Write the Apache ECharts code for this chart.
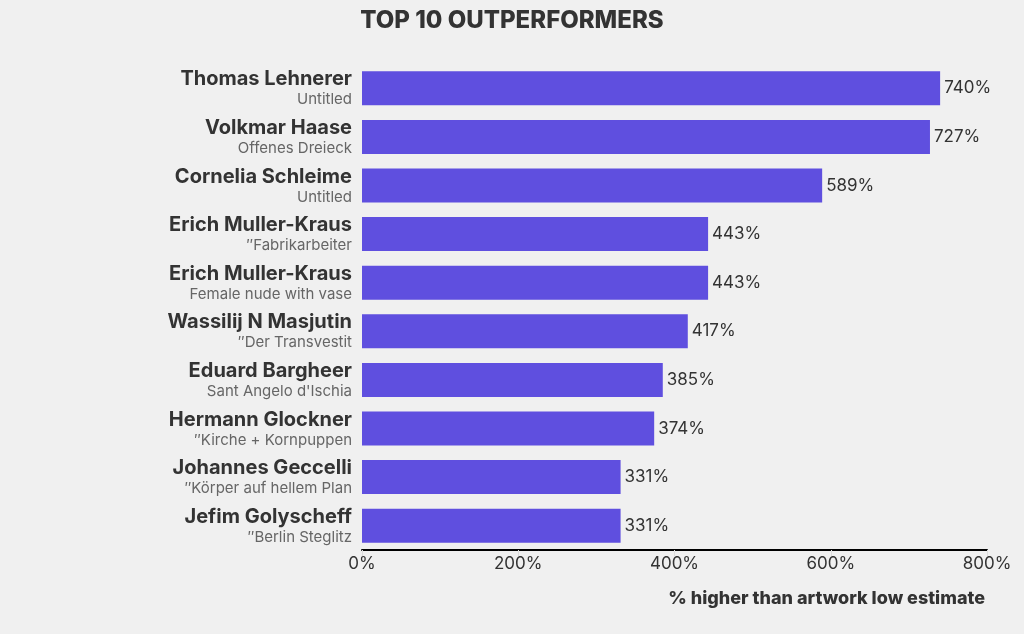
<!DOCTYPE html>
<html>
<head>
<meta charset="utf-8">
<script src="https://cdn.jsdelivr.net/npm/echarts@6/dist/echarts.min.js"></script>
<style>
  html, body { margin: 0; padding: 0; background: #f0f0f0; }
  #chart { width: 1024px; height: 634px; }
</style>
</head>
<body>
<div id="chart"></div>
<script>
// data, top to bottom
const artists = [
  "Thomas Lehnerer", "Volkmar Haase", "Cornelia Schleime", "Erich Muller-Kraus",
  "Erich Muller-Kraus", "Wassilij N Masjutin", "Eduard Bargheer", "Hermann Glockner",
  "Johannes Geccelli", "Jefim Golyscheff"
];
const artworks = [
  "Untitled", "Offenes Dreieck", "Untitled", "\u2033Fabrikarbeiter",
  "Female nude with vase", "\u2033Der Transvestit", "Sant Angelo d'Ischia", "\u2033Kirche + Kornpuppen",
  "\u2033K\u00f6rper auf hellem Plan", "\u2033Berlin Steglitz"
];
const outperformance = [740, 727, 589, 443, 443, 417, 385, 374, 331, 331];

const chartDom = document.getElementById("chart");
const chart = echarts.init(chartDom);
const font = "Inter, 'Noto Sans', sans-serif";

// y axis draws bottom-up, so reverse
const cats = artists.map((a, i) => a + "|" + artworks[i]).reverse();
const vals = outperformance.slice().reverse();

const option = {
  backgroundColor: "#f0f0f0",
  textStyle: { fontFamily: font },
  title: {
    text: "TOP 10 OUTPERFORMERS",
    left: "center",
    top: 4,
    textStyle: { fontFamily: font, fontSize: 24, fontWeight: 800, color: "#333" }
  },
  grid: { left: 362, right: 37, top: 64, bottom: 84, containLabel: false },
  xAxis: {
    type: "value",
    min: 0,
    max: 800,
    interval: 200,
    name: "% higher than artwork low estimate",
    nameLocation: "end",
    nameGap: 0,
    nameTextStyle: {
      fontFamily: font, fontSize: 18, fontWeight: 800, color: "#333",
      align: "right", verticalAlign: "top", padding: [40, 2, 0, 0]
    },
    axisLine: { show: true, lineStyle: { color: "#000", width: 2 } },
    axisTick: { show: true, length: 6, lineStyle: { color: "#ddd" } },
    splitLine: { show: false },
    axisLabel: {
      formatter: "{value}%", fontSize: 17, color: "#333", margin: 5, fontFamily: font
    }
  },
  yAxis: {
    type: "category",
    data: cats,
    axisLine: { show: false },
    axisTick: { show: false },
    axisLabel: {
      margin: 10,
      formatter: (v) => {
        const p = v.split("|");
        return "{a|" + p[0] + "}\n{b|" + p[1] + "}";
      },
      rich: {
        a: { fontFamily: font, fontSize: 20, fontWeight: "bold", color: "#333", align: "right", lineHeight: 23 },
        b: { fontFamily: font, fontSize: 15, color: "#666", align: "right", lineHeight: 18 }
      }
    }
  },
  series: [
    {
      type: "bar",
      data: vals,
      barCategoryGap: "30%",
      itemStyle: { color: "#5f4fdf" },
      label: {
        show: true,
        position: "right",
        distance: 4,
        formatter: "{c}%",
        fontSize: 17,
        color: "#333",
        fontFamily: font
      }
    }
  ]
};

chart.setOption(option);
window.addEventListener("resize", () => chart.resize());
</script>
</body>
</html>
